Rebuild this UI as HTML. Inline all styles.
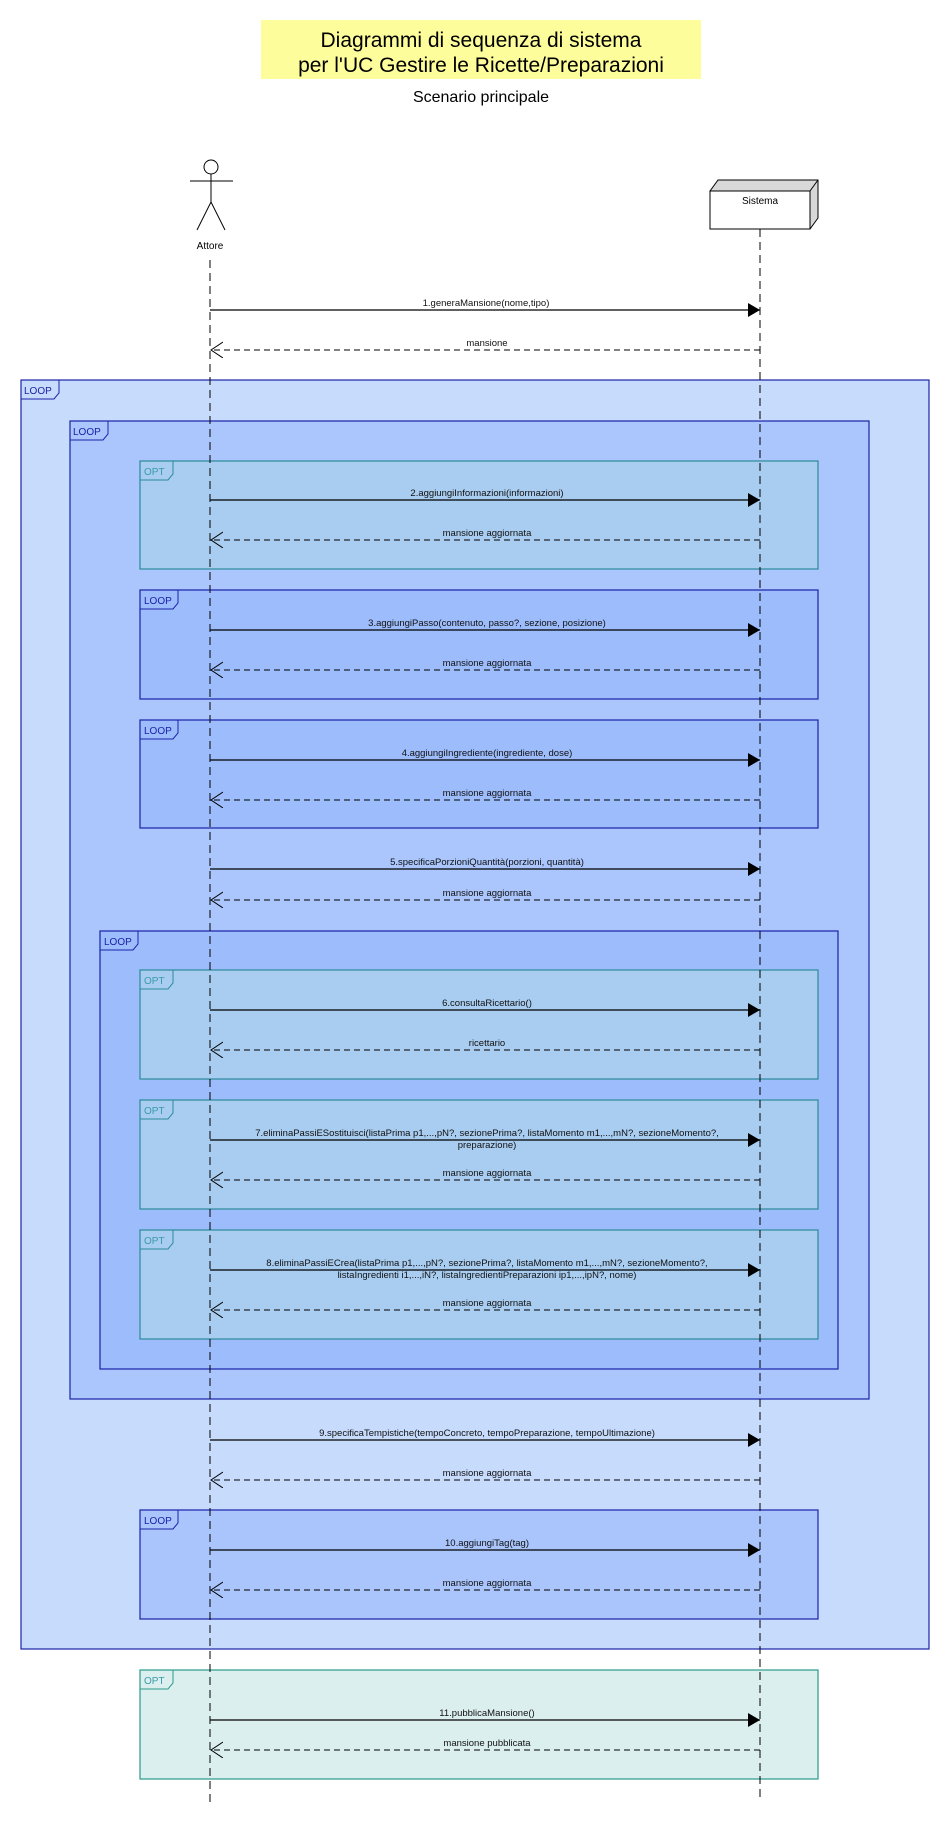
<!DOCTYPE html>
<html><head><meta charset="utf-8"><style>
html,body{margin:0;padding:0;background:#fff}
svg{display:block}
text{font-family:"Liberation Sans",Arial,sans-serif}
</style></head><body>
<svg width="950" height="1840" xmlns="http://www.w3.org/2000/svg">
<defs>
<marker id="fa" markerWidth="12" markerHeight="14" refX="12" refY="7" orient="auto" markerUnits="userSpaceOnUse"><path d="M0,0 L12,7 L0,14 Z" fill="#000"/></marker>
<marker id="oa" markerWidth="13" markerHeight="18" refX="12" refY="8" orient="auto" markerUnits="userSpaceOnUse"><path d="M0,0 L12,8 L0,16" fill="none" stroke="#000" stroke-width="1"/></marker>
</defs>
<!-- title -->
<rect x="261" y="20" width="440" height="59" fill="#fdfd9c"/>
<text x="481" y="47" font-size="21" text-anchor="middle" fill="#000">Diagrammi di sequenza di sistema</text>
<text x="481" y="72" font-size="21" text-anchor="middle" fill="#000">per l'UC Gestire le Ricette/Preparazioni</text>
<text x="481" y="102" font-size="16" text-anchor="middle" fill="#000">Scenario principale</text>

<!-- frames -->
<rect x="21" y="380" width="908" height="1269" fill="#c7dbfd" stroke="#1c22a8" stroke-width="1.2"/>
<rect x="70" y="421" width="799" height="978" fill="#aac6fc" stroke="#1c22a8" stroke-width="1.2"/>
<rect x="140" y="461" width="678" height="108" fill="#a9cdf0" stroke="#2a8a9a" stroke-width="1.2"/>
<rect x="140" y="590" width="678" height="109" fill="#9dbcfb" stroke="#1c22a8" stroke-width="1.2"/>
<rect x="140" y="720" width="678" height="108" fill="#9dbcfb" stroke="#1c22a8" stroke-width="1.2"/>
<rect x="100" y="931" width="738" height="438" fill="#9dbcfb" stroke="#1c22a8" stroke-width="1.2"/>
<rect x="140" y="970" width="678" height="109" fill="#a9cdf0" stroke="#2a8a9a" stroke-width="1.2"/>
<rect x="140" y="1100" width="678" height="109" fill="#a9cdf0" stroke="#2a8a9a" stroke-width="1.2"/>
<rect x="140" y="1230" width="678" height="109" fill="#a9cdf0" stroke="#2a8a9a" stroke-width="1.2"/>
<rect x="140" y="1510" width="678" height="109" fill="#a9c5fc" stroke="#1c22a8" stroke-width="1.2"/>
<rect x="140" y="1670" width="678" height="109" fill="#dcefef" stroke="#2a9a8a" stroke-width="1.2"/>

<!-- tabs -->
<g font-size="10" fill="none" stroke-width="1">
<path d="M21,399 H54 L59,393 V380" stroke="#1c22a8"/>
<path d="M70,440 H103 L108,434 V421" stroke="#1c22a8"/>
<path d="M140,480 H168 L173,474 V461" stroke="#2a8a9a"/>
<path d="M140,609 H173 L178,603 V590" stroke="#1c22a8"/>
<path d="M140,739 H173 L178,733 V720" stroke="#1c22a8"/>
<path d="M100,950 H133 L138,944 V931" stroke="#1c22a8"/>
<path d="M140,989 H168 L173,983 V970" stroke="#2a8a9a"/>
<path d="M140,1119 H168 L173,1113 V1100" stroke="#2a8a9a"/>
<path d="M140,1249 H168 L173,1243 V1230" stroke="#2a8a9a"/>
<path d="M140,1529 H173 L178,1523 V1510" stroke="#1c22a8"/>
<path d="M140,1689 H168 L173,1683 V1670" stroke="#2a9a8a"/>
</g>
<g font-size="10">
<text x="24" y="394" fill="#1c22a8">LOOP</text>
<text x="73" y="435" fill="#1c22a8">LOOP</text>
<text x="144" y="475" fill="#3a9aa8">OPT</text>
<text x="144" y="604" fill="#1c22a8">LOOP</text>
<text x="144" y="734" fill="#1c22a8">LOOP</text>
<text x="104" y="945" fill="#1c22a8">LOOP</text>
<text x="144" y="984" fill="#3a9aa8">OPT</text>
<text x="144" y="1114" fill="#3a9aa8">OPT</text>
<text x="144" y="1244" fill="#3a9aa8">OPT</text>
<text x="144" y="1524" fill="#1c22a8">LOOP</text>
<text x="144" y="1684" fill="#3a9aa8">OPT</text>
</g>

<!-- actor -->
<g stroke="#000" stroke-width="1" fill="none">
<ellipse cx="211" cy="167" rx="7" ry="7" fill="#fff"/>
<line x1="211" y1="174" x2="211" y2="202"/>
<line x1="190" y1="181" x2="233" y2="181"/>
<line x1="211" y1="202" x2="197" y2="230"/>
<line x1="211" y1="202" x2="225" y2="230"/>
</g>
<text x="210" y="249" font-size="10" text-anchor="middle">Attore</text>
<!-- sistema -->
<path d="M710,191 L718,180 L818,180 L818,218 L810,229 Z" fill="#d8d8d8" stroke="#000"/>
<rect x="710" y="191" width="100" height="38" fill="#fff" stroke="#000"/>
<line x1="810" y1="191" x2="818" y2="180" stroke="#000"/>
<text x="760" y="204" font-size="10" text-anchor="middle">Sistema</text>

<!-- lifelines -->
<line x1="210" y1="260" x2="210" y2="1802" stroke="#000" stroke-dasharray="8,5"/>
<line x1="760" y1="229" x2="760" y2="1798" stroke="#000" stroke-dasharray="8,5"/>

<!-- messages -->
<g stroke="#000" stroke-width="1.3">
<line x1="210" y1="310" x2="760" y2="310" marker-end="url(#fa)"/>
<line x1="210" y1="500" x2="760" y2="500" marker-end="url(#fa)"/>
<line x1="210" y1="630" x2="760" y2="630" marker-end="url(#fa)"/>
<line x1="210" y1="760" x2="760" y2="760" marker-end="url(#fa)"/>
<line x1="210" y1="869" x2="760" y2="869" marker-end="url(#fa)"/>
<line x1="210" y1="1010" x2="760" y2="1010" marker-end="url(#fa)"/>
<line x1="210" y1="1140" x2="760" y2="1140" marker-end="url(#fa)"/>
<line x1="210" y1="1270" x2="760" y2="1270" marker-end="url(#fa)"/>
<line x1="210" y1="1440" x2="760" y2="1440" marker-end="url(#fa)"/>
<line x1="210" y1="1550" x2="760" y2="1550" marker-end="url(#fa)"/>
<line x1="210" y1="1720" x2="760" y2="1720" marker-end="url(#fa)"/>
</g>
<g stroke="#000" stroke-width="1" stroke-dasharray="6,4">
<line x1="760" y1="350" x2="211" y2="350" marker-end="url(#oa)"/>
<line x1="760" y1="540" x2="211" y2="540" marker-end="url(#oa)"/>
<line x1="760" y1="670" x2="211" y2="670" marker-end="url(#oa)"/>
<line x1="760" y1="800" x2="211" y2="800" marker-end="url(#oa)"/>
<line x1="760" y1="900" x2="211" y2="900" marker-end="url(#oa)"/>
<line x1="760" y1="1050" x2="211" y2="1050" marker-end="url(#oa)"/>
<line x1="760" y1="1180" x2="211" y2="1180" marker-end="url(#oa)"/>
<line x1="760" y1="1310" x2="211" y2="1310" marker-end="url(#oa)"/>
<line x1="760" y1="1480" x2="211" y2="1480" marker-end="url(#oa)"/>
<line x1="760" y1="1590" x2="211" y2="1590" marker-end="url(#oa)"/>
<line x1="760" y1="1750" x2="211" y2="1750" marker-end="url(#oa)"/>
</g>
<g font-size="9.5" text-anchor="middle" fill="#111">
<text x="486" y="306">1.generaMansione(nome,tipo)</text>
<text x="487" y="346">mansione</text>
<text x="487" y="496">2.aggiungiInformazioni(informazioni)</text>
<text x="487" y="536">mansione aggiornata</text>
<text x="487" y="626">3.aggiungiPasso(contenuto, passo?, sezione, posizione)</text>
<text x="487" y="666">mansione aggiornata</text>
<text x="487" y="756">4.aggiungiIngrediente(ingrediente, dose)</text>
<text x="487" y="796">mansione aggiornata</text>
<text x="487" y="865">5.specificaPorzioniQuantità(porzioni, quantità)</text>
<text x="487" y="896">mansione aggiornata</text>
<text x="487" y="1006">6.consultaRicettario()</text>
<text x="487" y="1046">ricettario</text>
<text x="487" y="1136">7.eliminaPassiESostituisci(listaPrima p1,...,pN?, sezionePrima?, listaMomento m1,...,mN?, sezioneMomento?,</text>
<text x="487" y="1148">preparazione)</text>
<text x="487" y="1176">mansione aggiornata</text>
<text x="487" y="1266">8.eliminaPassiECrea(listaPrima p1,...,pN?, sezionePrima?, listaMomento m1,...,mN?, sezioneMomento?,</text>
<text x="487" y="1278">listaIngredienti i1,...,iN?, listaIngredientiPreparazioni ip1,...,ipN?, nome)</text>
<text x="487" y="1306">mansione aggiornata</text>
<text x="487" y="1436">9.specificaTempistiche(tempoConcreto, tempoPreparazione, tempoUltimazione)</text>
<text x="487" y="1476">mansione aggiornata</text>
<text x="487" y="1546">10.aggiungiTag(tag)</text>
<text x="487" y="1586">mansione aggiornata</text>
<text x="487" y="1716">11.pubblicaMansione()</text>
<text x="487" y="1746">mansione pubblicata</text>
</g>
</svg>
</body></html>
